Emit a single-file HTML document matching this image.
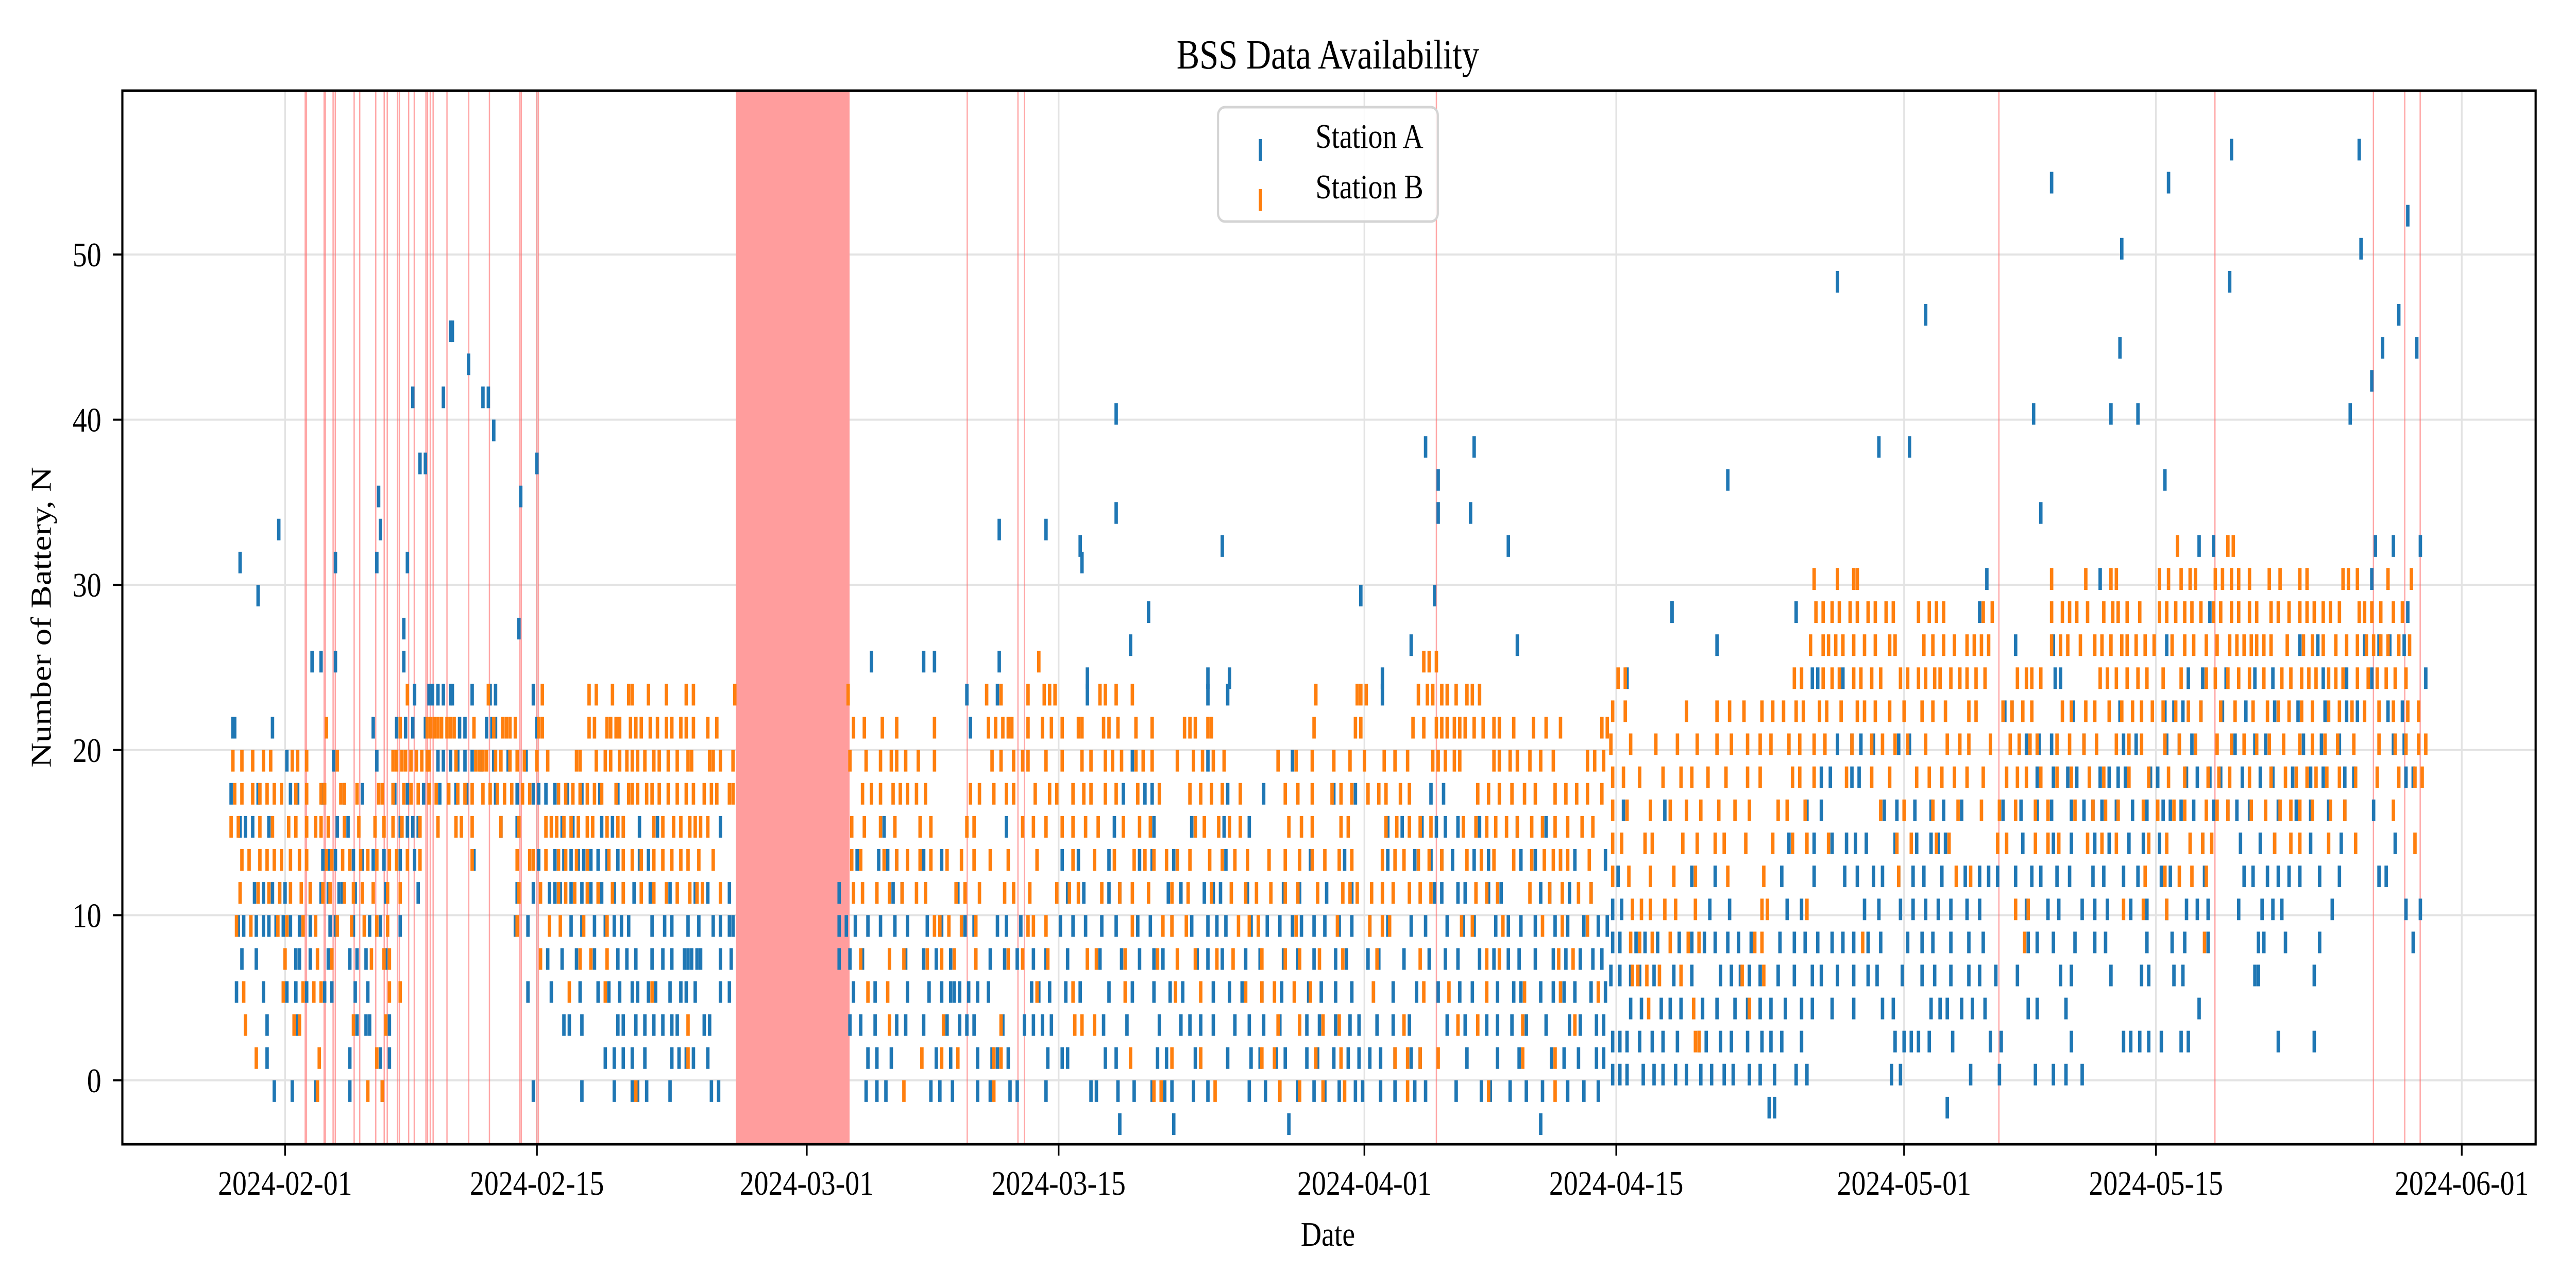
<!DOCTYPE html>
<html><head><meta charset="utf-8"><title>BSS Data Availability</title>
<style>
html,body{margin:0;padding:0;background:#fff;overflow:hidden;width:100%;height:100%;}
svg{display:block;position:absolute;left:0;top:0;width:100vw;height:100vh;font-family:"Liberation Serif","DejaVu Serif",serif;}
</style></head>
<body>
<svg id="chart" viewBox="0 0 6000 2500" preserveAspectRatio="none" xmlns="http://www.w3.org/2000/svg">
<rect x="0" y="0" width="6000" height="2500" fill="#fff"/>
<g id="grid"></g>
<g id="gaps"></g>
<g id="seriesA"></g>
<g id="seriesB"></g>
<g id="axes"></g>
<text x="3093" y="133" font-size="80" text-anchor="middle">BSS Data Availability</text>
<text x="3093" y="2418" font-size="67" text-anchor="middle">Date</text>
<text x="0" y="0" font-size="67" text-anchor="middle" transform="translate(118,1198) rotate(-90)">Number of Battery, N</text>
<g>
<rect x="2837" y="208" width="512" height="222" rx="16" ry="16" fill="#fff" fill-opacity="0.85" stroke="#d4d4d4" stroke-width="5"/>
<rect x="2932" y="270" width="8" height="42" fill="#1f77b4"/>
<text x="3064" y="287" font-size="67">Station A</text>
<rect x="2932" y="367" width="8" height="42" fill="#ff7f0e"/>
<text x="3064" y="385" font-size="67">Station B</text>
</g>
</svg>
<script>
// time in days since 2024-02-01 00:00
const tickDays = [0,14,29,43,60,74,90,104,121];
const tickLabels = ["2024-02-01","2024-02-15","2024-03-01","2024-03-15","2024-04-01","2024-04-15","2024-05-01","2024-05-15","2024-06-01"];
const yTicks = [0,10,20,30,40,50];
const gapTimes = [1.12,1.19,2.17,2.24,2.67,2.79,3.84,4.15,5.04,5.51,5.68,6.25,6.35,6.87,7.18,7.83,7.92,8.07,8.23,9.0,10.21,11.36,13.05,13.13,13.99,14.08,37.92,40.74,41.1,64.0,95.27,107.28,116.09,117.83,118.69];
const gapSpanStart = 25.06;
const gapSpanEnd = 31.38;

const levelsA = [23.35,21.35,19.35,17.35,15.35,13.35,11.35,9.35,7.35,5.35,3.35,1.35,-0.65,
 23.35,21.35,19.35,17.35,15.35,13.35,11.35,9.35,7.35,5.35,3.35,1.35,-0.65,-2.65,
 32.35,30.35,28.35,26.35,24.35,22.35,20.35,18.35,16.35,14.35,12.35,10.35,8.35,6.35,4.35,2.35,0.35,-1.65];
const timesA = [
"7.2 8.0 8.2 8.5 8.8 9.2 9.3 10.4 11.4 11.7 13.8",
"-2.9 -2.8 -0.7 4.9 6.2 6.7 7.1 7.8 9.7 10.0 11.2 11.5 11.7 14.0",
"0.1 2.7 5.1 8.5 8.8 9.2 9.6 10.0 10.4 10.9 11.6 12.4 13.4",
"-3.0 -1.5 0.3 0.7 2.1 3.3 4.3 6.1 6.8 7.7 8.6 9.5 10.1 11.7 12.9 13.8 14.1 14.5 15.0 15.7 16.5 17.5 18.5",
"-2.5 -2.2 -1.8 -0.9 2.9 3.5 6.4 6.8 7.1 7.4 12.0 12.9 15.4 16.0 17.6 18.2 18.8 19.7 20.7 24.2",
"2.1 2.4 2.8 3.8 4.3 4.9 5.5 6.4 7.2 10.5 14.1 15.0 15.5 15.9 16.3 16.6 17.0 17.4 17.9 18.5 19.7 20.2",
"-1.7 -1.2 -0.7 -0.3 0.0 1.4 2.0 2.4 3.0 3.2 3.9 5.6 7.4 12.9 13.8 14.7 15.0 15.3 15.9 16.5 17.0 17.6 18.3 18.8 19.4 20.3 21.4 22.8 23.5 24.7",
"-2.6 -2.3 -1.6 -1.2 -0.9 -0.5 -0.1 0.3 0.8 1.4 2.5 2.8 3.8 4.7 5.3 6.4 12.8 13.5 15.9 16.5 17.2 17.8 18.3 18.7 19.1 20.4 21.1 21.5 22.4 23.0 23.8 24.2 24.7 24.9",
"-2.4 -1.6 0.6 0.8 1.4 2.4 2.6 3.6 4.0 4.5 5.6 14.6 15.4 16.2 17.2 18.5 19.0 19.5 20.4 21.0 21.5 22.2 22.4 22.6 22.9 23.1 24.2 24.8",
"-2.7 -1.2 0.1 0.6 1.2 2.2 2.6 3.9 4.6 13.5 14.8 16.4 17.4 18.0 18.6 19.3 19.6 20.2 20.6 21.4 22.0 22.3 22.8 24.2 24.7",
"-1.0 0.7 4.0 4.5 4.7 5.8 15.5 15.8 16.5 18.5 18.8 19.5 20.0 20.5 21.0 21.5 21.8 23.3 23.6",
"-1.0 3.6 5.3 5.8 17.8 18.3 18.8 19.3 20.0 21.5 21.9 22.3 22.7 23.5",
"-0.6 0.4 1.7 3.6 5.4 13.8 16.5 18.3 19.3 19.6 20.1 21.4 23.7 24.1",
"37.9 39.6 44.6 51.3 52.4 61.0",
"38.1",
"47.1 56.0 51.3",
"46.6 47.8 48.2 52.4 54.4 58.3 59.5 63.7 64.4",
"33.3 40.1 46.1 48.3 50.4 52.2 53.6 61.3 62.1 63.2 64.0 64.5 65.2 66.4 68.5 70.1",
"31.8 33.0 33.5 34.0 35.5 36.5 43.2 44.1 45.8 47.5 48.2 49.4 52.3 57.0 58.9 61.3 62.8 63.7 64.3 64.9 66.1 66.9 68.7 69.5 70.9 71.7 73.4",
"30.8 33.8 34.3 35.6 37.4 43.5 44.4 45.8 46.4 49.1 49.8 51.1 51.6 52.0 53.5 55.5 56.4 57.9 59.3 63.9 64.3 65.2 65.6 66.9 67.6 69.8 70.3 71.4 72.6",
"30.8 31.2 31.7 32.4 33.1 33.9 34.6 35.7 36.5 37.8 38.3 39.6 40.1 40.9 43.1 43.8 44.5 45.4 46.2 47.4 48.1 49.3 50.4 51.3 51.8 52.3 53.7 54.6 55.3 56.0 56.5 57.2 57.8 58.6 59.3 60.3 61.3 62.6 63.4 64.6 65.5 66.1 67.3 68.0 68.7 69.5 70.6 71.3 72.2 73.0 73.5",
"30.8 31.4 32.1 33.6 34.5 35.5 36.2 37.0 38.4 39.2 40.0 40.7 41.6 42.3 43.5 44.6 45.3 46.5 47.5 48.3 48.8 50.7 51.3 52.1 53.4 54.2 55.5 56.3 57.2 58.4 59.0 60.2 60.8 62.2 63.6 64.5 65.2 66.4 67.2 68.0 68.6 69.5 70.5 71.2 72.0 72.7 73.2",
"31.6 32.8 34.6 35.8 36.5 37.0 37.2 37.5 38.0 38.5 39.1 41.5 41.9 42.5 43.4 44.2 45.8 47.1 48.3 49.2 49.9 51.6 52.5 53.2 54.3 55.4 56.9 57.6 58.4 59.3 60.5 61.6 62.9 64.1 65.3 66.0 67.4 68.3 68.7 69.8 70.5 71.1 71.7 72.6 73.4",
"31.4 32.0 32.8 34.0 34.5 35.5 36.8 37.5 37.9 38.3 39.9 41.1 41.6 42.1 42.6 45.5 46.8 48.6 49.8 50.3 50.9 51.6 52.8 53.6 54.4 55.3 56.8 57.5 58.4 59.2 59.7 60.7 61.6 62.5 64.6 65.6 66.8 67.4 68.2 69.0 70.1 71.4 72.0 72.9 73.3",
"32.4 32.9 33.7 36.2 37.0 38.5 39.3 39.6 40.2 42.4 43.2 43.5 45.6 46.2 48.5 49.0 50.6 50.9 52.4 53.7 54.2 55.1 55.6 56.8 57.4 58.3 59.1 59.7 60.3 60.9 61.7 62.6 63.1 65.7 67.4 68.6 70.4 71.1 71.9 72.9 73.3",
"32.3 32.9 33.4 35.9 36.4 37.1 38.5 39.2 40.3 40.7 42.3 44.8 45.1 46.3 47.2 48.2 48.9 49.3 50.5 51.3 53.6 54.5 55.3 56.3 57.2 57.8 58.6 59.5 59.9 60.9 61.7 62.8 63.4 65.1 66.5 67.0 68.1 69.0 69.9 71.3 72.2 73.0",
"46.4 49.4 55.8 69.8",
"106.4 107.2 116.2 117.2 118.7",
"94.6 100.9 116.0",
"77.1 84.0 94.2 107.0 118.0",
"96.2 98.3 104.6 112.0 113.0 115.6 116.4 117.0 117.8",
"74.6 84.9 85.2 86.6 98.4 98.7 105.8 106.6 107.9 109.5 110.5 113.3 114.6 116.0 119.0",
"95.6 96.0 99.4 102.0 104.5 105.0 105.5 106.5 107.7 109.0 110.6 111.9 113.4 114.6 115.2 116.9 117.7",
"86.3 87.1 87.6 88.3 89.7 90.3 96.8 97.5 98.2 100.0 102.2 102.9 104.6 105.3 106.0 108.4 109.5 110.1 112.2 113.2 114.2 117.2 117.8",
"85.4 85.9 87.1 87.5 97.4 98.3 99.1 99.6 100.3 100.9 101.4 101.9 102.3 103.7 104.1 105.7 106.3 107.0 107.6 108.8 109.8 110.5 111.6 112.6 113.3 114.5 115.0 117.9 118.3",
"74.4 76.7 84.6 85.4 88.9 89.6 90.6 91.5 92.2 93.2 95.5 96.5 97.4 98.2 99.3 100.0 100.5 101.0 101.8 102.7 103.5 104.4 104.8 105.4 106.1 107.2 108.0 108.5 109.2 110.8 111.8 112.6 113.6 114.5 116.1",
"83.6 85.0 86.0 86.8 87.3 87.9 89.5 90.7 91.5 91.9 92.3 96.6 98.3 99.3 100.6 101.4 102.5 103.3 104.2 106.6 108.7 109.8 110.6 112.6 114.3 117.3",
"74.1 78.2 79.5 83.2 85.0 86.7 87.4 88.3 88.8 89.7 90.5 91.1 92.1 93.4 94.2 94.7 95.2 96.2 97.1 97.6 98.5 99.2 100.5 101.1 102.2 103.0 104.3 104.8 106.7 108.9 109.4 110.2 110.8 111.4 112.0 113.1 114.2 116.4 116.8",
"73.8 74.3 79.2 80.3 83.5 84.3 87.8 88.6 89.8 90.5 91.2 91.9 92.6 93.5 94.2 96.8 98.0 98.6 99.9 100.6 101.3 102.6 103.5 104.6 105.7 106.3 106.9 108.6 109.9 110.5 111.0 113.8 117.9 118.7",
"73.8 74.2 75.1 75.6 76.3 77.5 78.2 78.9 79.5 80.2 80.8 81.5 83.1 83.9 84.5 85.2 86.0 86.6 87.2 88.0 88.7 90.2 91.0 91.6 92.6 93.6 94.4 96.9 97.4 98.3 99.5 100.6 101.2 103.5 104.9 105.6 106.9 109.7 110.0 111.2 113.1 118.3",
"73.7 74.2 74.8 75.3 76.1 77.2 78.2 79.8 80.4 80.9 81.4 82.0 83.0 83.9 84.9 85.4 86.3 87.2 88.0 88.5 89.9 91.0 91.7 92.6 93.6 94.2 95.1 96.3 98.7 99.3 101.5 103.2 103.6 105.0 105.5 109.5 109.7 112.8",
"74.8 75.4 76.5 77.0 77.6 78.3 78.8 79.6 80.6 81.3 82.0 82.6 83.4 84.3 84.9 86.0 87.2 88.8 89.4 91.5 92.0 92.4 93.2 93.8 94.5 96.9 97.4 99.0 106.4",
"73.8 74.2 74.6 75.3 76.0 76.6 77.4 78.6 79.0 79.8 80.4 81.3 82.1 82.6 83.2 84.3 89.5 90.0 90.4 90.8 91.4 92.7 94.8 95.4 99.3 102.2 102.6 103.1 103.6 104.3 105.4 105.8 110.8 112.8",
"73.8 74.2 74.6 75.5 76.1 76.6 77.3 77.9 78.7 79.3 80.0 80.5 81.4 82.0 82.8 84.0 84.6 89.3 89.8 93.7 95.3 97.3 98.3 99.0 99.9",
"82.5 82.8 92.4"
];
const outTA = [9.2,9.3,10.2,7.1,8.8,11.0,11.3,11.6,7.5,7.8,14.0,5.2,13.1,-0.35,5.3,-2.5,2.8,5.1,6.8,-1.5,6.6,13.0,1.5,2.0,2.8,6.6,
 32.6,35.5,36.1,39.7,39.7,42.3,46.2,46.2,48.0,47.0,44.6,51.3,52.5,61.0,52.1,68.0,44.2,44.3,63.4,66.1,64.1,64.1,65.9,59.8,63.9,62.6,68.5,
 108.2,115.3,98.2,104.7,118.0,102.1,115.4,86.3,108.1,91.2,117.5,102.0,116.6,118.5,116.0,97.2,101.5,103.0,114.8,88.6,90.3,80.2,104.5,97.6,77.1,79.6];
const outVA = [45.35,45.35,43.35,41.35,41.35,41.35,41.35,39.35,37.35,37.35,37.35,35.35,35.35,33.35,33.35,31.35,31.35,31.35,31.35,29.35,27.35,27.35,25.35,25.35,25.35,25.35,
 25.35,25.35,25.35,25.35,33.35,33.35,40.35,34.35,28.35,26.35,24.35,24.35,24.35,24.35,32.35,32.35,32.35,31.35,38.35,38.35,36.35,34.35,34.35,29.35,29.35,26.35,26.35,
 56.35,56.35,54.35,54.35,52.35,50.35,50.35,48.35,48.35,46.35,46.35,44.35,44.35,44.35,42.35,40.35,40.35,40.35,40.35,38.35,38.35,36.35,36.35,34.35,28.35,26.35];

const levelsB = [23.35,21.35,19.35,17.35,15.35,13.35,11.35,9.35,7.35,5.35,3.35,1.35,-0.65,
 25.35,23.35,21.35,19.35,17.35,15.35,13.35,11.35,9.35,7.35,5.35,3.35,1.35,-0.65,
 32.35,30.35,28.35,26.35,24.35,22.35,20.35,18.35,16.35,14.35,12.35,10.35,8.35,6.35,4.35,2.35];
const timesB = [
"6.8 11.3 14.3 16.9 17.3 18.2 19.1 19.3 20.2 21.2 22.3 22.7 25.0",
"2.3 6.4 7.9 8.1 8.3 8.5 8.7 9.0 9.2 9.4 10.5 11.6 12.1 12.3 12.5 12.8 14.1 14.3 16.9 17.2 17.9 18.1 18.4 18.6 19.2 19.5 19.8 20.3 20.7 21.2 21.5 22.0 22.3 22.7 23.5 24.0",
"-2.9 -2.4 -1.8 -1.2 -0.8 0.4 0.7 1.2 2.9 6.0 6.2 6.5 6.7 7.0 7.3 7.6 7.9 8.0 9.5 10.6 10.8 11.0 11.2 11.7 12.0 12.5 12.9 13.3 14.0 14.6 16.2 16.4 17.3 17.8 18.1 18.6 19.0 19.3 19.6 20.0 20.5 20.8 21.3 21.8 22.4 22.6 23.6 23.8 24.2 24.9",
"-2.8 -2.4 -1.8 -1.4 -1.0 -0.6 -0.2 0.6 1.2 2.0 2.2 3.1 3.3 4.0 5.2 5.4 6.0 6.6 7.0 7.4 8.0 8.4 9.1 9.6 10.0 10.4 11.0 11.4 11.8 12.2 12.6 13.2 13.6 15.2 15.6 16.0 16.4 16.8 17.2 17.6 18.4 19.1 19.3 19.6 20.1 20.4 20.8 21.3 21.8 22.3 22.7 23.3 23.7 24.0 24.7 24.9",
"-3.0 -2.6 -1.4 -0.7 0.2 0.6 1.2 1.7 2.0 2.4 3.3 4.1 5.0 5.5 6.0 6.5 7.5 8.5 9.5 9.8 10.4 12.0 13.0 14.5 14.8 15.1 15.5 15.9 16.3 16.8 17.1 17.9 18.5 18.8 20.5 21.0 21.6 22.0 22.5 22.8 23.1 23.5",
"-2.4 -2.0 -1.4 -1.0 -0.6 -0.2 0.3 0.8 1.2 2.3 2.6 3.2 3.6 4.2 4.6 5.1 5.8 6.2 6.8 7.5 10.4 12.9 13.6 13.8 14.5 15.2 15.6 16.2 16.8 18.0 18.8 19.3 19.8 20.5 21.0 21.5 22.0 22.4 23.0 23.8",
"-2.5 -1.5 -0.9 -0.3 0.3 0.9 1.4 2.1 2.5 3.3 3.8 4.3 4.9 5.7 6.4 13.0 14.2 15.2 15.6 16.1 16.8 17.4 18.2 18.8 19.8 20.5 21.2 21.8 22.5 22.9 23.2 24.2",
"-2.7 -1.9 -0.4 0.1 1.0 1.7 2.9 3.7 4.4 5.1 5.7 12.9 14.7 15.3 16.6 17.9",
"0.0 1.8 2.6 4.8 5.5 5.8 14.2 16.4 17.0 17.9",
"-2.3 -0.1 1.0 1.6 2.0 5.8 6.4 15.8 17.8 20.4",
"-2.2 0.5 0.8 3.8 5.6 22.4",
"-1.6 1.9 5.1 22.4",
"1.8 4.6 5.4 19.5",
"41.9 63.3 63.6 64.0",
"31.3 39.0 39.8 41.3 42.2 42.5 42.8 45.3 45.6 46.2 47.1 57.3 59.6 59.8 60.1 63.0 63.5 63.8 64.3 64.6 65.1 65.7 66.0 66.4",
"31.6 32.2 33.2 34.0 36.1 39.1 39.5 39.9 40.2 40.4 41.3 42.1 42.6 43.2 44.1 44.3 45.5 45.8 46.3 47.3 48.2 50.0 50.3 50.6 51.3 51.5 57.2 59.5 59.8 62.7 63.3 64.0 64.3 64.6 65.0 65.3 65.6 66.1 66.6 67.2 67.5 68.3 69.4 70.1 70.9 73.2 73.5",
"31.4 32.3 33.1 33.7 34.0 34.5 35.2 36.1 39.3 39.8 40.5 41.0 41.3 42.3 43.2 44.3 44.8 45.6 46.0 46.5 47.3 47.7 48.2 49.6 50.5 51.0 51.6 52.2 55.2 56.2 57.1 58.3 59.2 60.0 61.1 61.7 62.4 63.8 64.1 64.5 65.0 65.3 67.2 67.5 68.1 68.5 69.2 69.8 70.5 72.4 72.8 73.3",
"32.1 32.6 33.1 33.8 34.2 34.6 35.1 35.6 38.1 38.6 39.4 40.1 40.5 41.7 42.5 42.9 43.8 44.4 44.8 45.6 46.2 47.4 48.6 50.3 50.9 51.5 52.1 53.1 55.6 56.3 57.1 58.2 58.7 59.3 60.2 60.8 61.2 62.0 62.5 66.3 66.9 67.5 68.2 68.9 69.5 70.6 71.2 71.8 72.4 73.2",
"31.5 32.2 33.1 33.9 35.3 35.9 37.9 38.3 41.0 41.6 42.3 43.2 43.8 44.5 45.2 46.6 47.5 48.1 50.6 51.1 51.9 52.5 53.1 55.8 56.5 57.1 58.7 59.1 61.2 61.8 62.5 63.1 63.7 65.5 66.2 66.8 67.3 67.9 68.5 69.3 69.9 70.6 71.3 72.1 72.7",
"31.5 32.0 33.3 34.0 34.6 35.3 35.9 36.8 37.6 38.3 39.2 40.2 41.8 43.8 45.0 46.1 47.2 47.8 48.3 49.0 49.6 50.3 51.4 52.1 52.8 53.5 54.7 55.6 56.4 57.1 57.8 58.6 59.3 61.0 61.7 62.2 63.0 63.6 64.3 65.7 66.5 67.2 68.3 69.3 70.0 70.5 70.9 71.3 72.5",
"31.6 32.1 32.9 33.6 34.3 35.1 35.6 37.3 37.8 38.6 40.0 40.5 41.4 42.9 43.6 44.1 45.4 46.4 47.1 48.0 49.3 50.2 51.5 52.6 53.4 54.0 54.8 55.6 56.3 57.4 58.8 59.2 59.6 60.4 61.0 61.6 62.5 63.1 63.7 66.2 66.8 67.4 69.2 70.3 71.0 71.9 72.6",
"36.1 36.4 36.9 37.6 38.4 41.3 41.6 42.3 47.1 48.8 49.3 50.1 53.0 53.6 54.1 56.2 58.5 60.3 61.0 61.4 65.4 66.0 67.7 69.9 71.0 72.4",
"32.0 33.6 34.4 35.7 36.5 37.2 38.4 40.2 41.0 42.4 44.6 45.1 46.7 48.5 49.6 50.6 51.8 52.7 54.3 55.6 56.4 57.5 58.8 60.7 63.1 66.8 67.5 70.8 71.6",
"32.4 33.5 41.8 43.8 46.7 49.5 50.9 53.4 54.3 55.0 56.1 57.0 60.5 63.3 64.7 66.8 68.9 70.9 73.0",
"33.6 36.6 39.8 43.9 44.3 45.0 55.2 56.4 57.7 58.6 62.2 65.2 66.3 68.8 71.7",
"35.4 36.5 37.4 39.4 39.8 47.0 49.3 50.9 54.3 55.0 57.3 58.7 61.7 62.4 63.1 64.1 68.8 70.6",
"34.4 39.4 48.3 48.7 51.7 55.3 56.4 57.7 58.9 62.4 66.9 70.6",
"105.2 108.0 108.3",
"85.0 86.3 87.2 87.4 98.2 100.1 101.5 101.8 104.2 104.7 105.4 105.9 106.2 107.3 107.7 108.2 108.6 109.2 110.3 110.9 112.0 112.4 114.4 114.7 115.2 116.9 118.2",
"85.1 85.5 86.0 86.4 87.0 87.4 88.0 88.4 89.0 89.4 90.8 91.4 91.8 92.2 94.4 94.9 98.2 98.8 99.2 99.6 100.2 101.1 101.6 101.9 102.4 103.1 104.2 104.6 105.1 105.6 106.0 106.5 107.2 107.6 108.2 108.6 109.2 109.6 110.4 110.8 111.4 112.0 112.4 112.8 113.3 113.7 114.2 115.3 115.6 116.0 116.5 117.2 117.7",
"84.8 85.5 85.8 86.2 86.6 87.2 87.8 88.4 89.2 89.5 91.1 91.6 92.2 92.8 93.5 93.9 94.3 94.7 98.2 98.7 99.1 99.8 100.6 101.0 101.5 102.1 102.4 102.9 103.4 103.9 104.9 105.6 106.1 106.8 107.4 108.1 108.5 108.9 109.3 109.6 110.0 110.4 111.3 112.2 112.7 113.3 114.0 114.6 115.2 115.7 116.1 116.5 116.9 117.5 118.1",
"74.1 74.5 83.9 84.3 85.5 86.0 86.4 87.2 87.6 88.2 88.7 89.8 90.2 90.8 91.2 91.7 92.0 92.6 93.1 93.5 94.0 94.5 96.3 96.8 97.1 97.6 100.9 101.3 101.8 102.4 103.0 103.5 104.4 105.4 106.8 107.3 108.0 108.6 109.2 110.0 111.0 111.5 112.1 112.5 112.9 113.6 114.0 114.4 115.2 115.8 116.3 116.8 117.3 117.9",
"73.8 74.5 77.9 79.6 80.3 81.1 82.1 82.7 83.3 84.0 84.4 85.3 85.7 86.5 87.4 87.8 88.4 89.2 90.0 91.0 91.6 92.3 93.6 94.0 95.5 96.0 96.6 97.1 98.8 99.3 100.1 100.6 101.4 102.1 102.7 103.2 103.8 104.4 105.1 105.8 106.5 107.6 108.4 109.4 110.2 110.8 111.4 112.1 112.7 113.6 114.2 114.9 115.6 116.4 117.2 118.0 118.6",
"73.7 74.8 76.2 77.4 78.5 79.6 80.4 81.3 82.0 82.6 83.6 84.2 85.0 85.6 87.1 88.2 88.8 89.5 90.2 91.2 92.4 93.1 93.6 94.8 95.9 96.4 97.0 97.4 98.5 99.2 100.0 100.7 101.8 102.5 103.2 104.5 105.3 106.2 107.4 108.2 108.9 109.6 110.3 111.1 112.0 112.7 113.4 114.1 115.0 116.4 117.3 117.9 118.6 119.0",
"73.8 74.4 75.3 76.6 77.6 78.2 79.1 80.1 81.3 82.0 83.8 84.2 85.0 86.8 88.2 89.2 90.7 91.4 92.1 92.8 93.5 94.4 95.7 96.3 96.8 97.6 98.5 99.3 100.3 101.1 102.5 103.6 104.7 105.6 106.9 107.5 108.1 109.2 110.4 111.2 111.8 112.4 112.9 113.5 114.2 115.1 116.3 117.5 118.4 118.8",
"73.8 74.6 75.9 77.0 77.9 78.7 79.7 80.6 81.4 83.0 83.5 84.5 88.7 90.0 91.6 93.0 94.3 95.3 96.2 97.3 98.0 99.5 100.5 101.2 101.9 103.3 104.1 105.0 105.6 106.8 107.4 108.0 109.3 110.1 110.9 111.5 112.0 112.7 113.7 114.5 117.2",
"73.8 74.3 75.6 76.0 77.7 78.5 79.5 80.0 81.2 82.7 83.8 84.6 85.8 89.6 90.4 91.8 92.5 95.2 95.7 97.3 98.0 98.6 100.2 101.0 101.8 103.6 104.6 105.9 106.6 107.1 110.6 111.5 112.0 113.6 115.1 118.4",
"73.8 74.7 75.9 77.2 78.4 80.2 82.2 89.7 92.9 93.7 103.4 104.5 105.3 106.0 106.8",
"74.9 75.4 75.9 76.7 77.3 78.4 82.1 82.4 84.6 96.2 96.9 102.2 103.3 104.6",
"74.8 75.3 76.0 77.0 78.0 78.6 81.7 82.1 87.7 96.7 106.7",
"74.9 75.2 75.7 76.4 77.6 81.0 82.2",
"75.8 78.3 81.4",
"78.4 78.6"
];

const NS = "http://www.w3.org/2000/svg";
const X0 = 285, X1 = 5906, Y0 = 176, Y1 = 2221;
function xs(t){ return 664 + t*41.9; }
function ys(v){ return 2097 - v*32.06; }
function mk(tag, attrs, parent){
  const e = document.createElementNS(NS, tag);
  for (const k in attrs) e.setAttribute(k, attrs[k]);
  parent.appendChild(e);
  return e;
}
const grid = document.getElementById('grid');
const axes = document.getElementById('axes');
const gaps = document.getElementById('gaps');
const gA = document.getElementById('seriesA');
const gB = document.getElementById('seriesB');

tickDays.forEach(function(d){
  const l = mk('line', {x1: xs(d), x2: xs(d), y1: Y0, y2: Y1, stroke: '#e3e3e3', 'stroke-width': 4}, grid);
  
  
});
yTicks.forEach(function(v){
  const l = mk('line', {x1: X0, x2: X1, y1: ys(v), y2: ys(v), stroke: '#e3e3e3', 'stroke-width': 4}, grid);
  
  
});

const span = mk('rect', {x: xs(gapSpanStart), y: Y0, width: xs(gapSpanEnd) - xs(gapSpanStart), height: Y1 - Y0, fill: '#ff9d9d'}, gaps);


gapTimes.forEach(function(t){
  const l = mk('line', {x1: xs(t), x2: xs(t), y1: Y0, y2: Y1, stroke: '#ff6b6b', 'stroke-opacity': 0.6, 'stroke-width': 3}, gaps);
  
  
});

function drawMark(t, v, color, parent, name){
  const x = xs(t), y = ys(v);
  if (x < X0 || x > X1) return;
  const r = mk('rect', {x: x - 4, y: y - 21, width: 8, height: 42, fill: color}, parent);
  
  
}
levelsA.forEach(function(v, i){
  timesA[i].trim().split(/\s+/).map(Number).forEach(function(t){ drawMark(t, v, '#1f77b4', gA, 'station-a-point'); });
});
outTA.forEach(function(t, i){ drawMark(t, outVA[i], '#1f77b4', gA, 'station-a-point'); });
levelsB.forEach(function(v, i){
  timesB[i].trim().split(/\s+/).map(Number).forEach(function(t){ drawMark(t, v, '#ff7f0e', gB, 'station-b-point'); });
});

const frame = mk('rect', {x: X0, y: Y0, width: X1 - X0, height: Y1 - Y0, fill: 'none', stroke: '#000', 'stroke-width': 5}, axes);


tickDays.forEach(function(d, i){
  const tk = mk('line', {x1: xs(d), x2: xs(d), y1: Y1, y2: Y1 + 22, stroke: '#000', 'stroke-width': 4}, axes);
  
  
  const tx = mk('text', {x: xs(d), y: 2319, 'font-size': 67, 'text-anchor': 'middle'}, axes);
  tx.textContent = tickLabels[i];
  
  
});
yTicks.forEach(function(v){
  const tk = mk('line', {x1: X0 - 22, x2: X0, y1: ys(v), y2: ys(v), stroke: '#000', 'stroke-width': 4}, axes);
  
  
  const tx = mk('text', {x: 236, y: ys(v) + 23, 'font-size': 67, 'text-anchor': 'end'}, axes);
  tx.textContent = String(v);
  
  
});
</script>
</body></html>
